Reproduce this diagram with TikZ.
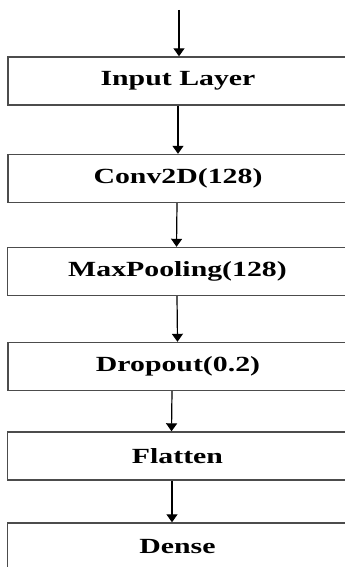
\documentclass[tikz,border=0pt]{standalone}
\usepackage{fontspec}
\setmainfont{Liberation Serif}
\usetikzlibrary{arrows.meta}
\begin{document}
\begin{tikzpicture}[x=1pt,y=-1pt,
  layer/.style={draw=black!70, line width=1.4pt, minimum width=340pt, minimum height=48pt,
    inner sep=0pt, font=\fontsize{21.6}{24}\selectfont\bfseries, text=black},
  flow/.style={line width=1.2pt, -{Triangle[length=8pt,width=11pt]}}]
\clip (0,0) rectangle (345,567);
\useasboundingbox (0,0) rectangle (345,567);
\node[layer] (in) at (178,81) {\scalebox{1.38}[1]{Input Layer}};
\node[layer] (conv) at (178,178.5) {\scalebox{1.38}[1]{Conv2D(128)}};
\node[layer] (pool) at (177.5,271.5) {\scalebox{1.38}[1]{MaxPooling(128)}};
\node[layer] (drop) at (178,366.5) {\scalebox{1.38}[1]{Dropout(0.2)}};
\node[layer] (flat) at (177.5,456) {\scalebox{1.38}[1]{Flatten}};
\node[layer] (dense) at (177.5,547) {\scalebox{1.38}[1]{Dense}};
\coordinate (start) at (179,10);
\draw[flow] (start) -- (start |- in.north);
\draw[flow] ([xshift=0pt]in.south) -- ([xshift=0pt]conv.north);
\draw[flow] ([xshift=-1pt]conv.south) -- ([xshift=-1pt]pool.north);
\draw[flow] ([xshift=-0.5pt]pool.south) -- ([xshift=-0.5pt]drop.north);
\draw[flow] ([xshift=-6pt]drop.south) -- ([xshift=-6pt]flat.north);
\draw[flow] ([xshift=-5.5pt]flat.south) -- ([xshift=-5.5pt]dense.north);
\end{tikzpicture}
\end{document}
